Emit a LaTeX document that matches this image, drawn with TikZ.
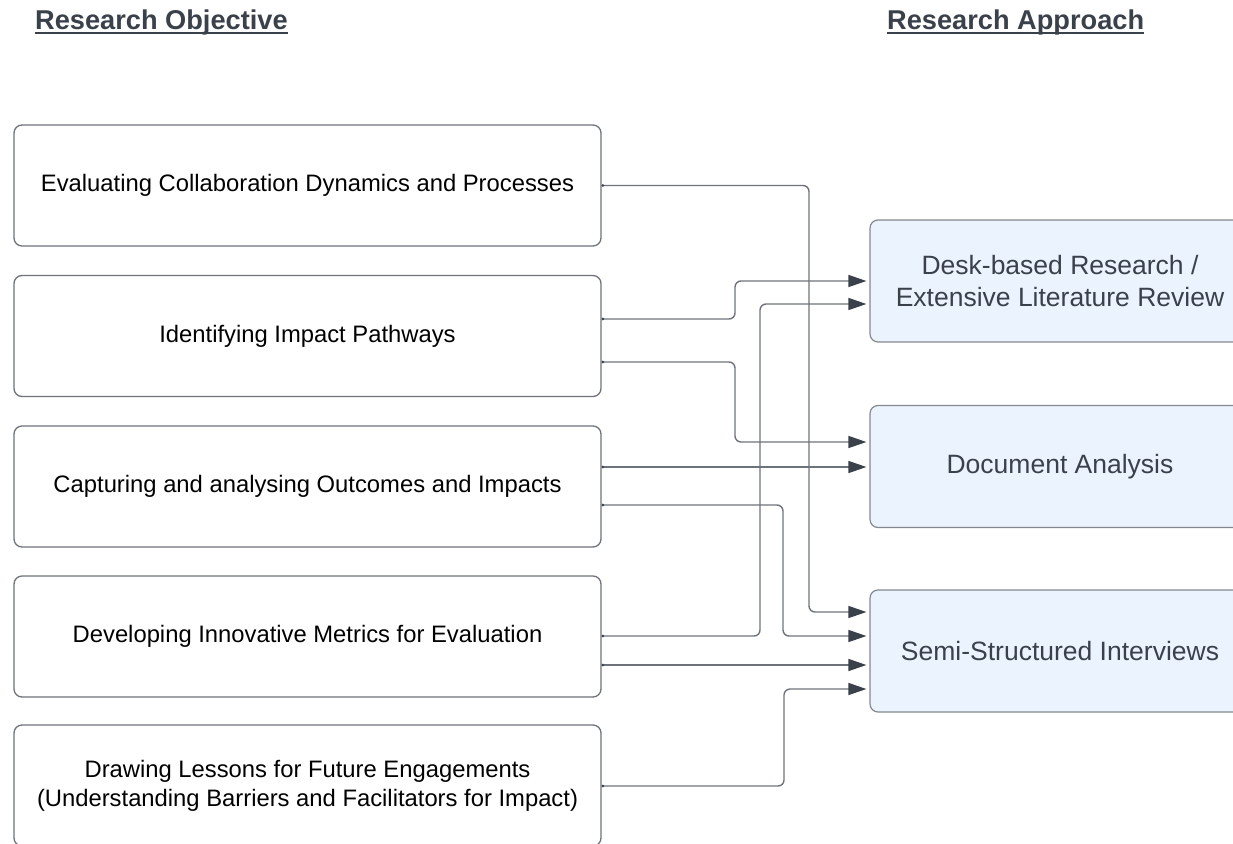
\documentclass[tikz,border=0pt]{standalone}
\usepackage{fontspec}
\setmainfont{Liberation Sans}
\usetikzlibrary{arrows.meta}
\definecolor{ink}{HTML}{3A414A}
\definecolor{edge}{HTML}{6E737B}
\definecolor{fillblue}{HTML}{EBF3FE}
\begin{document}
\begin{tikzpicture}[x=1pt,y=-1pt,
  objbox/.style={draw=edge, line width=1.3pt, rounded corners=8pt, fill=white,
    minimum width=587pt, minimum height=121pt, inner sep=0pt, align=center,
    font=\fontsize{23.8}{29}\selectfont, text=black},
  appbox/.style={draw=edge!85, line width=1.2pt, rounded corners=8pt, fill=fillblue,
    minimum width=380pt, minimum height=122pt, inner sep=0pt, align=center,
    font=\fontsize{26.5}{32}\selectfont, text=ink},
  conn/.style={draw=edge, line width=1.4pt, rounded corners=6pt,
    {Circle[length=2.5pt,color=ink]}-{Triangle[length=18pt,width=12pt,color=ink]},
    shorten >=3pt},
  heading/.style={anchor=base west, inner sep=0pt,
    font=\bfseries\fontsize{27.2}{32}\selectfont, text=ink}]

\useasboundingbox (0,0) rectangle (1233,843);
\clip (0,0) rectangle (1233,843);

% column headings
\node[heading] (h1) at (35,30) {Research Objective};
\node[heading] (h2) at (887,30) {Research Approach};
\draw[ink, line width=2pt] ([yshift=-3pt]h1.base west) -- ([yshift=-3pt]h1.base east);
\draw[ink, line width=2pt] ([yshift=-3pt]h2.base west) -- ([yshift=-3pt]h2.base east);

% research objectives
\node[objbox] (o1) at (307.5,185.5) {Evaluating Collaboration Dynamics and Processes};
\node[objbox] (o2) at (307.5,336) {Identifying Impact Pathways};
\node[objbox] (o3) at (307.5,486.5) {Capturing and analysing Outcomes and Impacts};
\node[objbox] (o4) at (307.5,636.5) {Developing Innovative Metrics for Evaluation};
\node[objbox] (o5) at (307.5,785.5) {Drawing Lessons for Future Engagements\\(Understanding Barriers and Facilitators for Impact)};

% research approaches
\node[appbox] (a1) at (1060,281) {Desk-based Research /\\Extensive Literature Review};
\node[appbox] (a2) at (1060,466.5) {Document Analysis};
\node[appbox] (a3) at (1060,651) {Semi-Structured Interviews};

% links from objectives to approaches
\draw[conn] (o2.east |- 0,319) -- (735,319) -- (735,281) -- (a1.west |- 0,281);
\draw[conn] (o4.east |- 0,636) -- (760,636) -- (760,304) -- (a1.west |- 0,304);
\draw[conn] (o2.east |- 0,362) -- (735,362) -- (735,442) -- (a2.west |- 0,442);
\draw[conn] (o3.east |- 0,467) -- (a2.west |- 0,467);
\draw[conn] (o1.east |- 0,185.5) -- (809,185.5) -- (809,612) -- (a3.west |- 0,612);
\draw[conn] (o3.east |- 0,505) -- (783,505) -- (783,636) -- (a3.west |- 0,636);
\draw[conn] (o4.east |- 0,665) -- (a3.west |- 0,665);
\draw[conn] (o5.east |- 0,786) -- (784,786) -- (784,689) -- (a3.west |- 0,689);
\end{tikzpicture}
\end{document}
